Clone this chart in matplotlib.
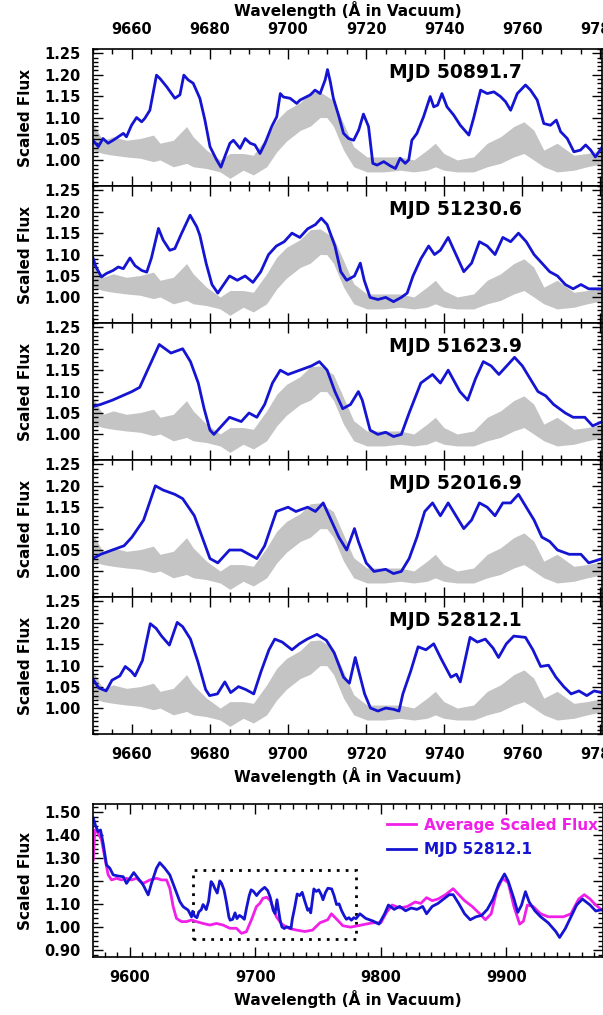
import numpy as np
import matplotlib
matplotlib.use("Agg")
import matplotlib.pyplot as plt
from matplotlib.ticker import MultipleLocator
from matplotlib.patches import Rectangle

plt.rcParams['font.family'] = ['DejaVu Sans']
plt.rcParams['font.weight'] = 'bold'
plt.rcParams['axes.labelweight'] = 'bold'

# ---- data ----
# grey band (same in every zoom panel): wavelength, lower and upper envelope
gray_wave = [9650.0, 9652.6, 9655.2, 9658.6, 9662.1, 9665.5, 9667.2, 9670.6, 9674.0, 9675.7,
             9679.1, 9682.6, 9685.1, 9688.5, 9691.1, 9694.5, 9697.1, 9699.6, 9703.1, 9705.7,
             9708.2, 9709.9, 9711.6, 9714.2, 9716.8, 9720.2, 9724.5, 9728.7, 9732.2, 9735.6,
             9737.7, 9739.9, 9743.3, 9747.5, 9751.0, 9754.4, 9757.8, 9760.4, 9762.9, 9765.5,
             9768.9, 9773.2, 9776.6, 9781.0]
gray_low = [1.024, 1.016, 1.012, 1.008, 1.005, 0.997, 1.001, 0.985, 0.993, 0.985,
            0.981, 0.973, 0.958, 0.977, 0.966, 0.985, 1.020, 1.045, 1.070, 1.080,
            1.100, 1.100, 1.080, 1.024, 0.985, 0.973, 0.973, 0.977, 0.973, 0.977,
            0.985, 0.977, 0.973, 0.973, 0.985, 0.993, 1.008, 1.016, 1.001, 0.985,
            0.973, 0.977, 0.985, 0.993]
gray_high = [1.086, 1.047, 1.055, 1.047, 1.051, 1.059, 1.040, 1.047, 1.079, 1.055,
             1.024, 1.001, 1.016, 1.016, 1.012, 1.055, 1.094, 1.117, 1.135, 1.158,
             1.160, 1.150, 1.140, 1.086, 1.032, 1.008, 1.008, 1.008, 1.001, 1.024,
             1.040, 1.016, 1.001, 1.008, 1.040, 1.055, 1.079, 1.090, 1.071, 1.024,
             1.040, 1.012, 1.016, 1.024]

# MJD 50891.7
wave_1 = [9650.0, 9651.4, 9652.6, 9653.9, 9655.2, 9657.8, 9658.6, 9659.9, 9661.2, 9662.5,
          9663.3, 9664.6, 9666.3, 9667.2, 9668.9, 9671.0, 9672.3, 9673.3, 9674.4, 9675.7,
          9677.4, 9678.7, 9680.0, 9681.7, 9682.8, 9683.8, 9685.1, 9686.0, 9687.7, 9689.0,
          9690.3, 9691.5, 9692.8, 9694.1, 9695.8, 9697.1, 9698.0, 9698.8, 9700.5, 9702.2,
          9703.1, 9705.7, 9706.9, 9708.2, 9709.5, 9710.1, 9710.8, 9711.6, 9712.9, 9714.2,
          9715.5, 9716.8, 9718.1, 9719.3, 9720.6, 9721.7, 9722.8, 9724.5, 9726.2, 9727.5,
          9728.7, 9730.0, 9730.9, 9731.7, 9733.0, 9734.7, 9736.4, 9737.3, 9738.3, 9739.4,
          9740.7, 9742.4, 9744.1, 9746.3, 9747.5, 9749.3, 9751.0, 9752.7, 9754.4, 9755.7,
          9757.0, 9758.7, 9760.8, 9762.1, 9763.8, 9765.5, 9767.2, 9768.7, 9769.8, 9771.5,
          9773.2, 9774.9, 9776.2, 9777.5, 9778.7, 9780.5]
flux_1 = [1.047, 1.032, 1.051, 1.040, 1.047, 1.063, 1.055, 1.082, 1.100, 1.090,
          1.098, 1.117, 1.199, 1.191, 1.172, 1.145, 1.153, 1.199, 1.188, 1.180,
          1.145, 1.094, 1.032, 1.001, 0.984, 1.009, 1.040, 1.047, 1.028, 1.051,
          1.040, 1.036, 1.016, 1.040, 1.079, 1.102, 1.156, 1.148, 1.145, 1.133,
          1.141, 1.153, 1.164, 1.156, 1.188, 1.212, 1.184, 1.145, 1.106, 1.063,
          1.051, 1.047, 1.071, 1.108, 1.079, 0.993, 0.989, 0.997, 0.987, 0.981,
          1.005, 0.993, 1.001, 1.047, 1.063, 1.102, 1.149, 1.125, 1.129, 1.156,
          1.125, 1.106, 1.082, 1.059, 1.098, 1.164, 1.156, 1.160, 1.149, 1.137,
          1.117, 1.156, 1.176, 1.164, 1.141, 1.086, 1.082, 1.094, 1.067, 1.051,
          1.020, 1.024, 1.036, 1.024, 1.008, 1.032]

# MJD 51230.6
wave_2 = [9650.0, 9650.8, 9652.2, 9653.5, 9655.2, 9656.5, 9657.8, 9659.5, 9660.8, 9662.5,
          9663.8, 9665.0, 9666.8, 9668.0, 9669.7, 9671.0, 9672.7, 9674.9, 9676.6, 9677.4,
          9679.0, 9680.5, 9682.0, 9683.5, 9685.0, 9687.0, 9689.0, 9691.0, 9693.0, 9695.0,
          9697.0, 9699.0, 9701.0, 9703.0, 9705.0, 9707.0, 9708.5, 9710.0, 9712.0, 9713.5,
          9715.0, 9717.0, 9718.5, 9719.5, 9721.0, 9723.0, 9725.0, 9727.0, 9729.0, 9730.5,
          9732.0, 9734.0, 9736.0, 9737.5, 9739.0, 9741.0, 9743.0, 9745.0, 9747.0, 9749.0,
          9751.0, 9753.0, 9755.0, 9757.0, 9759.0, 9761.0, 9763.0, 9765.0, 9767.0, 9769.0,
          9771.0, 9773.0, 9775.0, 9777.0, 9780.5]
flux_2 = [1.093, 1.071, 1.048, 1.056, 1.063, 1.071, 1.067, 1.092, 1.074, 1.063,
          1.059, 1.092, 1.161, 1.134, 1.110, 1.114, 1.149, 1.192, 1.165, 1.145,
          1.080, 1.030, 1.010, 1.030, 1.050, 1.040, 1.050, 1.035, 1.060, 1.100,
          1.120, 1.130, 1.150, 1.140, 1.160, 1.170, 1.185, 1.170, 1.120, 1.060,
          1.040, 1.050, 1.080, 1.040, 1.000, 0.995, 1.000, 0.990, 1.000, 1.010,
          1.050, 1.090, 1.120, 1.100, 1.110, 1.140, 1.100, 1.060, 1.080, 1.130,
          1.120, 1.100, 1.140, 1.130, 1.150, 1.130, 1.100, 1.080, 1.060, 1.050,
          1.030, 1.020, 1.030, 1.020, 1.020]

# MJD 51623.9
wave_3 = [9650.0, 9652.0, 9655.0, 9657.5, 9660.0, 9662.0, 9664.0, 9667.0, 9670.0, 9673.0,
          9675.0, 9677.0, 9678.5, 9680.0, 9681.0, 9683.0, 9685.0, 9688.0, 9690.0, 9692.0,
          9694.0, 9696.0, 9698.0, 9700.0, 9703.0, 9706.0, 9708.0, 9710.0, 9712.0, 9714.0,
          9716.0, 9718.0, 9719.0, 9721.0, 9723.0, 9725.0, 9727.0, 9729.0, 9731.0, 9734.0,
          9737.0, 9739.0, 9741.0, 9744.0, 9746.0, 9748.0, 9750.0, 9752.0, 9754.0, 9756.0,
          9758.0, 9760.0, 9762.0, 9764.0, 9766.0, 9768.0, 9771.0, 9773.0, 9776.0, 9778.0,
          9780.5]
flux_3 = [1.065, 1.070, 1.080, 1.090, 1.100, 1.110, 1.150, 1.210, 1.190, 1.200,
          1.170, 1.120, 1.060, 1.010, 1.000, 1.020, 1.040, 1.030, 1.050, 1.040,
          1.070, 1.120, 1.150, 1.140, 1.150, 1.160, 1.170, 1.150, 1.100, 1.060,
          1.070, 1.100, 1.080, 1.010, 1.000, 1.005, 0.995, 1.000, 1.050, 1.120,
          1.140, 1.120, 1.150, 1.100, 1.080, 1.130, 1.170, 1.160, 1.140, 1.160,
          1.180, 1.160, 1.130, 1.100, 1.090, 1.070, 1.050, 1.040, 1.040, 1.020,
          1.030]

# MJD 52016.9
wave_4 = [9650.0, 9652.0, 9655.0, 9658.0, 9660.0, 9663.0, 9666.0, 9668.0, 9671.0, 9673.0,
          9676.0, 9678.0, 9680.0, 9682.0, 9685.0, 9688.0, 9690.0, 9692.0, 9694.0, 9697.0,
          9700.0, 9702.0, 9705.0, 9707.0, 9709.0, 9711.0, 9713.0, 9715.0, 9717.0, 9718.0,
          9720.0, 9722.0, 9725.0, 9727.0, 9729.0, 9731.0, 9733.0, 9735.0, 9737.0, 9739.0,
          9741.0, 9743.0, 9745.0, 9747.0, 9749.0, 9751.0, 9753.0, 9755.0, 9757.0, 9759.0,
          9761.0, 9763.0, 9765.0, 9767.0, 9769.0, 9772.0, 9775.0, 9777.0, 9780.5]
flux_4 = [1.030, 1.040, 1.050, 1.060, 1.080, 1.120, 1.200, 1.190, 1.180, 1.170,
          1.130, 1.080, 1.030, 1.020, 1.050, 1.050, 1.040, 1.030, 1.060, 1.140,
          1.150, 1.140, 1.150, 1.140, 1.160, 1.120, 1.080, 1.050, 1.100, 1.070,
          1.020, 1.000, 1.005, 0.995, 1.000, 1.030, 1.080, 1.140, 1.160, 1.130,
          1.160, 1.130, 1.100, 1.120, 1.160, 1.150, 1.130, 1.160, 1.160, 1.180,
          1.150, 1.120, 1.080, 1.070, 1.050, 1.040, 1.040, 1.020, 1.030]

# MJD 52812.1 (also the blue curve of the bottom panel)
wave_5 = [9650.0, 9651.5, 9653.4, 9654.9, 9656.9, 9658.3, 9659.8, 9660.8, 9662.7, 9664.7,
          9666.2, 9667.6, 9669.6, 9671.6, 9673.0, 9675.0, 9676.9, 9678.9, 9679.9, 9681.9,
          9683.8, 9685.3, 9687.3, 9689.2, 9691.2, 9693.1, 9695.1, 9696.6, 9698.5, 9701.0,
          9702.9, 9704.9, 9707.4, 9709.8, 9711.8, 9714.2, 9715.7, 9717.2, 9718.1, 9719.6,
          9721.1, 9723.0, 9725.0, 9727.0, 9728.4, 9729.4, 9731.4, 9733.3, 9735.3, 9737.3,
          9739.2, 9741.7, 9743.1, 9744.1, 9746.6, 9748.5, 9750.5, 9752.5, 9753.9, 9755.9,
          9757.8, 9760.8, 9762.7, 9764.7, 9766.7, 9768.6, 9770.6, 9772.5, 9774.5, 9776.5,
          9778.4, 9780.2]
flux_5 = [1.069, 1.048, 1.041, 1.066, 1.076, 1.098, 1.087, 1.076, 1.112, 1.198,
          1.187, 1.169, 1.148, 1.201, 1.191, 1.162, 1.109, 1.044, 1.030, 1.034,
          1.062, 1.037, 1.051, 1.044, 1.034, 1.087, 1.137, 1.162, 1.155, 1.137,
          1.151, 1.162, 1.173, 1.159, 1.130, 1.073, 1.059, 1.119, 1.087, 1.034,
          1.001, 0.994, 1.001, 0.998, 0.994, 1.034, 1.087, 1.144, 1.137, 1.151,
          1.116, 1.073, 1.080, 1.062, 1.166, 1.155, 1.162, 1.141, 1.119, 1.151,
          1.169, 1.166, 1.137, 1.098, 1.101, 1.073, 1.051, 1.034, 1.041, 1.030,
          1.041, 1.037]

# bottom panel, MJD 52812.1 outside the zoomed window
blue_left_wave = [9570.8, 9572.9, 9574.7, 9576.6, 9578.7, 9581.4, 9584.0, 9586.7, 9590.7, 9594.7,
                  9597.3, 9600.0, 9603.1, 9606.6, 9610.6, 9614.6, 9617.2, 9621.2, 9623.8, 9627.8,
                  9631.8, 9635.8, 9639.8, 9642.4, 9646.4, 9649.1]
blue_left_flux = [1.473, 1.437, 1.415, 1.422, 1.364, 1.270, 1.256, 1.227, 1.222, 1.219,
                  1.190, 1.212, 1.237, 1.212, 1.183, 1.140, 1.190, 1.256, 1.280, 1.256,
                  1.227, 1.169, 1.111, 1.089, 1.074, 1.045]
blue_right_wave = [9783.3, 9787.9, 9793.9, 9798.5, 9803.0, 9806.0, 9810.6, 9815.0, 9819.7, 9824.2,
                   9828.8, 9833.3, 9836.4, 9840.9, 9845.5, 9850.0, 9854.5, 9857.6, 9862.0, 9866.7,
                   9871.2, 9875.8, 9880.3, 9884.8, 9889.4, 9893.9, 9898.5, 9901.5, 9906.1, 9909.1,
                   9912.1, 9915.2, 9918.2, 9922.7, 9927.3, 9933.3, 9939.4, 9942.4, 9947.0, 9951.5,
                   9956.0, 9960.6, 9966.7, 9971.2, 9977.0]
blue_right_flux = [1.058, 1.038, 1.026, 1.013, 1.058, 1.096, 1.077, 1.090, 1.071, 1.083,
                   1.077, 1.090, 1.058, 1.090, 1.103, 1.122, 1.141, 1.141, 1.103, 1.058,
                   1.032, 1.045, 1.051, 1.077, 1.122, 1.186, 1.231, 1.199, 1.122, 1.064,
                   1.096, 1.154, 1.109, 1.071, 1.045, 1.019, 0.981, 0.955, 0.994, 1.045,
                   1.096, 1.122, 1.096, 1.070, 1.077]

# bottom panel, average scaled flux
avg_wave = [9570.8, 9572.1, 9574.7, 9577.4, 9580.1, 9582.7, 9585.4, 9589.3, 9593.3, 9597.3,
            9601.3, 9605.3, 9610.6, 9615.9, 9621.2, 9625.2, 9629.2, 9631.8, 9634.5, 9637.1,
            9641.1, 9645.1, 9649.1, 9653.0, 9658.3, 9663.7, 9669.0, 9674.3, 9679.6, 9684.9,
            9688.9, 9692.8, 9696.8, 9700.8, 9703.5, 9706.0, 9709.0, 9712.0, 9716.7, 9721.0,
            9727.0, 9733.0, 9739.4, 9745.5, 9751.5, 9757.6, 9760.6, 9765.2, 9769.7, 9775.8,
            9781.8, 9787.9, 9793.9, 9800.0, 9804.5, 9809.0, 9815.2, 9821.2, 9827.3, 9831.8,
            9836.4, 9840.9, 9845.5, 9851.5, 9857.6, 9862.1, 9866.7, 9872.7, 9878.8, 9883.3,
            9887.9, 9892.4, 9897.0, 9901.5, 9906.0, 9910.6, 9913.6, 9916.7, 9921.2, 9927.3,
            9933.3, 9939.4, 9945.5, 9951.5, 9957.6, 9962.1, 9966.7, 9971.2, 9977.0]
avg_flux = [1.292, 1.422, 1.408, 1.379, 1.299, 1.227, 1.205, 1.212, 1.205, 1.212,
            1.205, 1.212, 1.190, 1.205, 1.212, 1.205, 1.205, 1.169, 1.089, 1.038,
            1.024, 1.024, 1.031, 1.024, 1.016, 1.009, 1.016, 1.009, 0.995, 0.995,
            0.973, 0.980, 1.031, 1.089, 1.103, 1.125, 1.130, 1.115, 1.045, 1.013,
            0.994, 0.987, 0.981, 0.987, 1.019, 1.032, 1.058, 1.032, 1.006, 1.000,
            1.006, 1.013, 1.019, 1.019, 1.064, 1.096, 1.083, 1.090, 1.109, 1.103,
            1.128, 1.115, 1.122, 1.141, 1.167, 1.141, 1.115, 1.090, 1.058, 1.032,
            1.058, 1.160, 1.212, 1.192, 1.090, 1.013, 1.026, 1.096, 1.090, 1.058,
            1.045, 1.045, 1.045, 1.058, 1.122, 1.141, 1.122, 1.096, 1.070]

mjd_labels = ['MJD 50891.7', 'MJD 51230.6', 'MJD 51623.9', 'MJD 52016.9', 'MJD 52812.1']
zoom_waves = [wave_1, wave_2, wave_3, wave_4, wave_5]
zoom_fluxes = [flux_1, flux_2, flux_3, flux_4, flux_5]

BLUE = '#1414d2'
MAGENTA = '#f020e8'
GRAY = '#c4c4c4'


def style_axis(ax):
    ax.tick_params(which='both', direction='in', top=True, right=True, width=1.0,
                   labelsize=10.5, pad=9)
    ax.tick_params(which='major', length=7)
    ax.tick_params(which='minor', length=3.5)
    for s in ax.spines.values():
        s.set_linewidth(1.2)
    for lab in ax.get_xticklabels() + ax.get_yticklabels():
        lab.set_fontweight('bold')


fig = plt.figure(figsize=(6.03, 10.15), dpi=100)

left, width = 0.154, 0.845
top0, ph = 0.9517, 0.135

for i in range(5):
    ax = fig.add_axes([left, top0 - (i + 1) * ph, width, ph])
    ax.fill_between(gray_wave, gray_low, gray_high, color=GRAY, lw=0)
    ax.plot(zoom_waves[i], zoom_fluxes[i], color=BLUE, lw=2.0)
    ax.set_xlim(9650, 9780.5)
    ax.set_ylim(0.94, 1.26)
    ax.set_yticks([1.00, 1.05, 1.10, 1.15, 1.20, 1.25])
    ax.yaxis.set_minor_locator(MultipleLocator(0.01))
    ax.xaxis.set_major_locator(MultipleLocator(20))
    ax.xaxis.set_minor_locator(MultipleLocator(5))
    ax.set_ylabel('Scaled Flux', fontsize=11, labelpad=8)
    ax.text(0.582, 0.83, mjd_labels[i], transform=ax.transAxes, fontsize=13.5,
            ha='left', va='center', color='black')
    if i == 0:
        ax.tick_params(labeltop=True, labelbottom=False)
        ax.xaxis.set_label_position('top')
        ax.set_xlabel('Wavelength (Å in Vacuum)', fontsize=11, labelpad=4)
    elif i == 4:
        ax.set_xlabel('Wavelength (Å in Vacuum)', fontsize=11, labelpad=4)
    else:
        ax.tick_params(labelbottom=False)
    style_axis(ax)
    ax.yaxis.set_major_formatter(matplotlib.ticker.FormatStrFormatter('%.2f'))

# bottom overview panel
axb = fig.add_axes([left, 0.0571, 0.846, 0.1508])
blue_wave = blue_left_wave + wave_5 + blue_right_wave
blue_flux = blue_left_flux + flux_5 + blue_right_flux
axb.plot(avg_wave, avg_flux, color=MAGENTA, lw=2.0, label='Average Scaled Flux')
axb.plot(blue_wave, blue_flux, color=BLUE, lw=2.0, label='MJD 52812.1')
axb.add_patch(Rectangle((9650, 0.95), 130, 0.30, fill=False, ls=(0, (1, 2.2)),
                        lw=2.0, color='black'))
axb.set_xlim(9570.5, 9977)
axb.set_ylim(0.87, 1.535)
axb.set_yticks([0.9, 1.0, 1.1, 1.2, 1.3, 1.4, 1.5])
axb.yaxis.set_major_formatter(matplotlib.ticker.FormatStrFormatter('%.2f'))
axb.yaxis.set_minor_locator(MultipleLocator(0.02))
axb.xaxis.set_major_locator(MultipleLocator(100))
axb.xaxis.set_minor_locator(MultipleLocator(10))
axb.set_ylabel('Scaled Flux', fontsize=11, labelpad=8)
axb.set_xlabel('Wavelength (Å in Vacuum)', fontsize=11, labelpad=4)
style_axis(axb)
leg = axb.legend(loc='upper left', bbox_to_anchor=(0.55, 1.0), frameon=False,
                 fontsize=11, handlelength=1.9, handletextpad=0.5,
                 labelspacing=0.6, borderaxespad=0.5, labelcolor='linecolor')
for t in leg.get_texts():
    t.set_fontweight('bold')

fig.savefig('out.png', dpi=100)
